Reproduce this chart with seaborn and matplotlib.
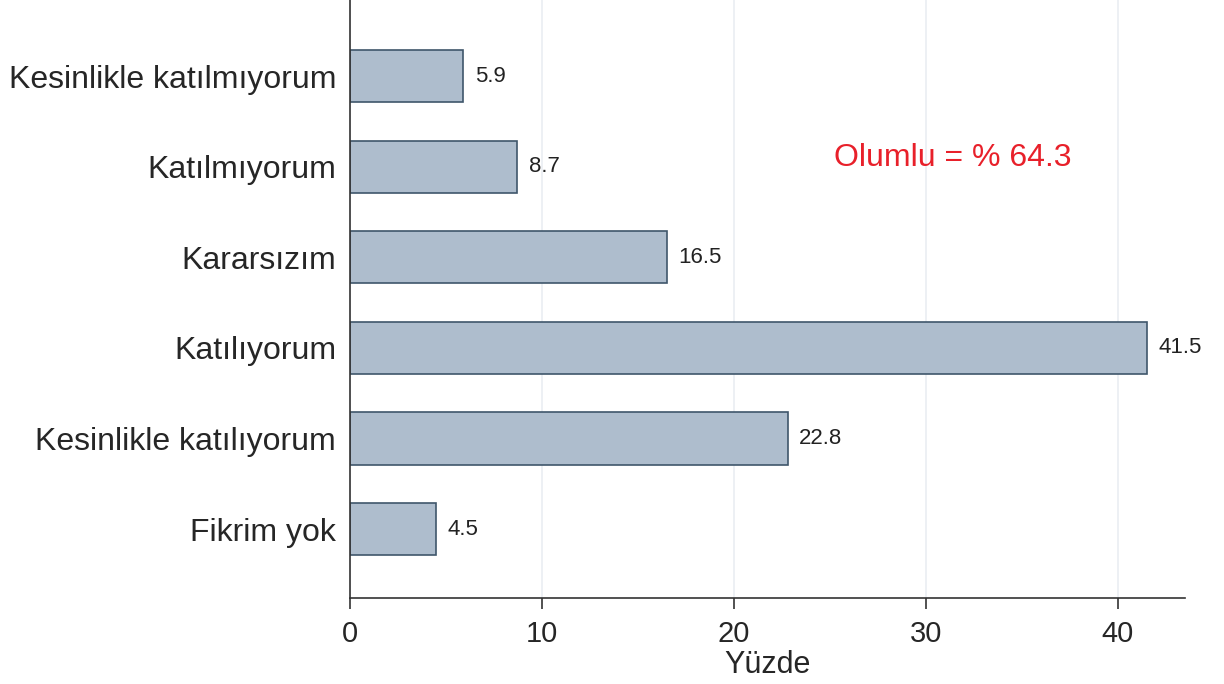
import matplotlib
matplotlib.use("Agg")
import matplotlib.pyplot as plt
import seaborn as sns
import pandas as pd

categories = ["Kesinlikle katılmıyorum", "Katılmıyorum", "Kararsızım",
              "Katılıyorum", "Kesinlikle katılıyorum", "Fikrim yok"]
values = [5.9, 8.7, 16.5, 41.5, 22.8, 4.5]
note = "Olumlu = % 64.3"

df = pd.DataFrame({"cat": categories, "pct": values})

sns.set_style("white")
plt.rcParams["font.family"] = ["Liberation Sans", "DejaVu Sans"]

fig = plt.figure(figsize=(12.24, 6.84), dpi=100)
ax = fig.add_axes([350 / 1224, 1 - 598 / 684, (1185 - 350) / 1224, 598 / 684])

ax.grid(axis="x", color="#eaeef2", linewidth=1.2)
ax.set_axisbelow(True)
sns.barplot(data=df, x="pct", y="cat", orient="h", color="#aebdcd",
            edgecolor="#3f566b", linewidth=1.2, width=0.575, saturation=1, ax=ax)

for i, v in enumerate(values):
    ax.text(v + 0.6, i, f"{v}", va="center", ha="left", fontsize=16, color="#222222")

ax.text(25.2, 0.9, note, color="#e8202a", fontsize=23, va="center", ha="left")

ax.set_xlim(0, 43.5)
ax.set_ylim(5.76, -0.84)
ax.set_xticks([0, 10, 20, 30, 40])
ax.tick_params(axis="x", bottom=True, labelsize=21, length=8, width=1.2,
               color="#333333", pad=8)
ax.tick_params(axis="y", labelsize=23, length=0, pad=10)
ax.set_ylabel("")
ax.set_xlabel("Yüzde", fontsize=22, labelpad=1)
for s in ["top", "right"]:
    ax.spines[s].set_visible(False)
for s in ["left", "bottom"]:
    ax.spines[s].set_color("#333333")
    ax.spines[s].set_linewidth(1.2)

fig.savefig("out.png", dpi=100)
